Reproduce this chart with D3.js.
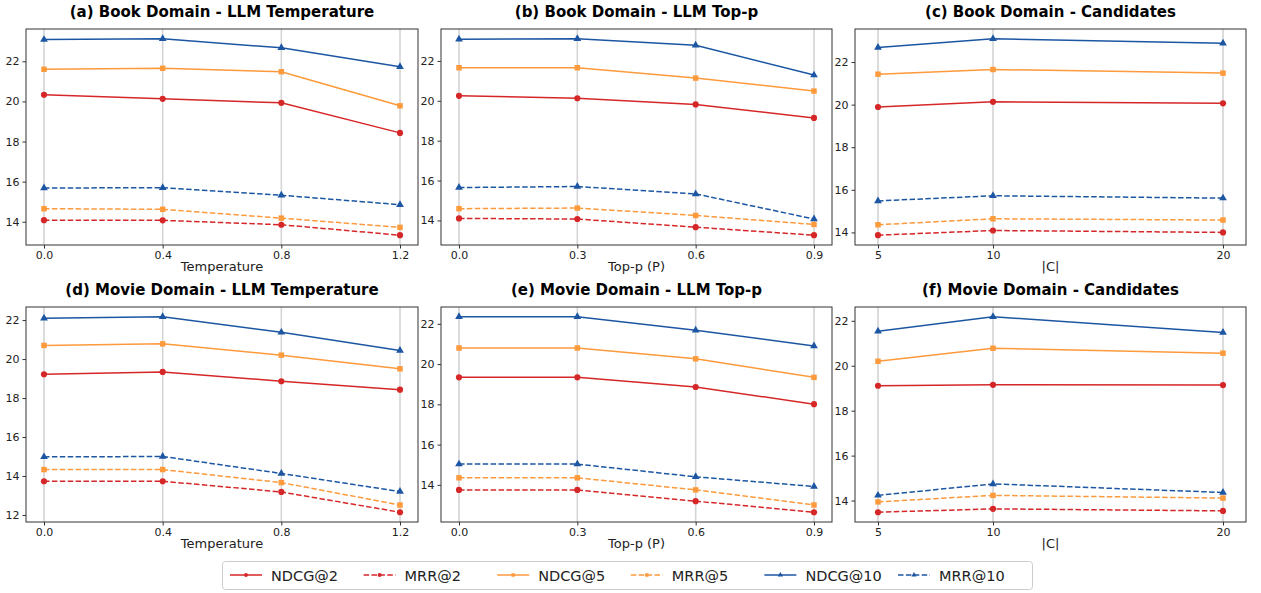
<!DOCTYPE html>
<html>
<head>
<meta charset="utf-8">
<script src="https://cdn.jsdelivr.net/npm/d3@7"></script>
<style>
  body { margin: 0; background: #fff; }
  svg { font-family: 'DejaVu Sans', sans-serif; }
</style>
</head>
<body>
<div id="chart"></div>
<script>
// x values for each panel
const tempX = [0.0, 0.4, 0.8, 1.2];
const topPX = [0.0, 0.3, 0.6, 0.9];
const candX = [5, 10, 20];

const tempTicks = ['0.0', '0.4', '0.8', '1.2'];
const topPTicks = ['0.0', '0.3', '0.6', '0.9'];
const candTicks = ['5', '10', '20'];

const seriesNames = ['NDCG@2', 'MRR@2', 'NDCG@5', 'MRR@5', 'NDCG@10', 'MRR@10'];

// (a) Book - temperature
const bookTemp = [
  [20.33, 20.13, 19.93, 18.43],
  [14.08, 14.07, 13.85, 13.33],
  [21.60, 21.65, 21.48, 19.78],
  [14.65, 14.62, 14.18, 13.72],
  [23.08, 23.12, 22.67, 21.73],
  [15.68, 15.70, 15.32, 14.85]
];
// (b) Book - top-p
const bookTopP = [
  [20.25, 20.13, 19.82, 19.14],
  [14.10, 14.07, 13.66, 13.26],
  [21.66, 21.66, 21.14, 20.49],
  [14.59, 14.62, 14.25, 13.80],
  [23.09, 23.11, 22.79, 21.29],
  [15.65, 15.70, 15.33, 14.07]
];
// (c) Book - candidates
const bookCand = [
  [19.89, 20.13, 20.06],
  [13.87, 14.09, 14.00],
  [21.43, 21.65, 21.48],
  [14.36, 14.64, 14.58],
  [22.68, 23.09, 22.88],
  [15.48, 15.72, 15.61]
];
// (d) Movie - temperature
const movieTemp = [
  [19.22, 19.34, 18.86, 18.43],
  [13.73, 13.73, 13.18, 12.14],
  [20.70, 20.78, 20.20, 19.50],
  [14.33, 14.33, 13.66, 12.51],
  [22.09, 22.17, 21.37, 20.44],
  [14.98, 15.00, 14.13, 13.20]
];
// (e) Movie - top-p
const movieTopP = [
  [19.34, 19.34, 18.86, 18.01],
  [13.75, 13.75, 13.19, 12.64],
  [20.80, 20.80, 20.26, 19.34],
  [14.35, 14.35, 13.75, 13.00],
  [22.35, 22.35, 21.68, 20.90],
  [15.03, 15.03, 14.40, 13.92]
];
// (f) Movie - candidates
const movieCand = [
  [19.11, 19.15, 19.14],
  [13.48, 13.63, 13.54],
  [20.20, 20.78, 20.56],
  [13.94, 14.23, 14.11],
  [21.54, 22.18, 21.48],
  [14.23, 14.74, 14.36]
];

const colors = ['#d62728', '#d62728', '#fd9a3c', '#fd9a3c', '#1c56a3', '#1c56a3'];
const dashed = [false, true, false, true, false, true];
const markers = ['circle', 'circle', 'square', 'square', 'triangle', 'triangle'];

const panels = [
  { title: '(a) Book Domain - LLM Temperature', xs: tempX, ticks: tempTicks, label: 'Temperature', data: bookTemp, col: 0, row: 0, pad: 18 },
  { title: '(b) Book Domain - LLM Top-p', xs: topPX, ticks: topPTicks, label: 'Top-p (P)', data: bookTopP, col: 1, row: 0, pad: 18 },
  { title: '(c) Book Domain - Candidates', xs: candX, ticks: candTicks, label: '|C|', data: bookCand, col: 2, row: 0, pad: 23 },
  { title: '(d) Movie Domain - LLM Temperature', xs: tempX, ticks: tempTicks, label: 'Temperature', data: movieTemp, col: 0, row: 1, pad: 18 },
  { title: '(e) Movie Domain - LLM Top-p', xs: topPX, ticks: topPTicks, label: 'Top-p (P)', data: movieTopP, col: 1, row: 1, pad: 18 },
  { title: '(f) Movie Domain - Candidates', xs: candX, ticks: candTicks, label: '|C|', data: movieCand, col: 2, row: 1, pad: 23 }
];

const width = 1261;
const height = 593;
const colLeft = [26, 441, 855];
const colRight = [418, 832, 1246];
const rowTop = [29, 307];
const rowBottom = [245, 522];

const svg = d3.select('#chart')
  .append('svg')
  .attr('width', width)
  .attr('height', height);

const symbolFor = m => m === 'circle' ? d3.symbolCircle : (m === 'square' ? d3.symbolSquare : d3.symbolTriangle);
const symbolSize = m => m === 'circle' ? 30 : (m === 'square' ? 30 : 26);

panels.forEach(p => {
  const left = colLeft[p.col], right = colRight[p.col];
  const top = rowTop[p.row], bottom = rowBottom[p.row];

  const x = d3.scaleLinear()
    .domain(d3.extent(p.xs))
    .range([left + p.pad, right - p.pad]);

  const all = p.data.flat();
  const lo = d3.min(all), hi = d3.max(all);
  const m = (hi - lo) * 0.05;
  const y = d3.scaleLinear()
    .domain([lo - m, hi + m])
    .range([bottom, top]);

  const g = svg.append('g');

  // vertical grid
  g.append('g')
    .selectAll('line')
    .data(p.xs)
    .join('line')
      .attr('x1', d => x(d))
      .attr('x2', d => x(d))
      .attr('y1', top)
      .attr('y2', bottom)
      .attr('stroke', '#d4d4d4')
      .attr('stroke-width', 1.6);

  // x axis
  g.append('g')
    .attr('transform', `translate(0, ${bottom})`)
    .call(d3.axisBottom(x).tickValues(p.xs).tickFormat((d, i) => p.ticks[i]).tickSize(3.5).tickPadding(3))
    .call(a => a.select('.domain').remove())
    .attr('font-size', '11px')
    .attr('font-family', 'DejaVu Sans, sans-serif')
    .call(a => a.selectAll('text').attr('fill', '#222'))
    .call(a => a.selectAll('line').attr('stroke', '#333'));

  // y axis
  const yTicks = d3.range(Math.ceil(y.domain()[0] / 2) * 2, y.domain()[1], 2);
  g.append('g')
    .attr('transform', `translate(${left}, 0)`)
    .call(d3.axisLeft(y).tickValues(yTicks).tickFormat(d3.format('d')).tickSize(3.5).tickPadding(3))
    .call(a => a.select('.domain').remove())
    .attr('font-size', '11px')
    .attr('font-family', 'DejaVu Sans, sans-serif')
    .call(a => a.selectAll('text').attr('fill', '#222'))
    .call(a => a.selectAll('line').attr('stroke', '#333'));

  // lines and markers
  p.data.forEach((vals, si) => {
    const pts = vals.map((v, i) => [p.xs[i], v]);
    g.append('path')
      .datum(pts)
      .attr('fill', 'none')
      .attr('stroke', colors[si])
      .attr('stroke-width', 1.5)
      .attr('stroke-dasharray', dashed[si] ? '5.5,2.4' : null)
      .attr('d', d3.line().x(d => x(d[0])).y(d => y(d[1])));

    g.append('g')
      .selectAll('path')
      .data(pts)
      .join('path')
        .attr('transform', d => `translate(${x(d[0])},${y(d[1])})`)
        .attr('d', d3.symbol().type(symbolFor(markers[si])).size(symbolSize(markers[si])))
        .attr('fill', colors[si]);
  });

  // frame
  g.append('rect')
    .attr('x', left)
    .attr('y', top)
    .attr('width', right - left)
    .attr('height', bottom - top)
    .attr('fill', 'none')
    .attr('stroke', '#333')
    .attr('stroke-width', 1);

  // title
  g.append('text')
    .attr('x', (left + right) / 2)
    .attr('y', top - 12)
    .attr('text-anchor', 'middle')
    .attr('font-size', '15px')
    .attr('font-weight', 'bold')
    .text(p.title);

  // x label
  g.append('text')
    .attr('x', (left + right) / 2)
    .attr('y', bottom + 26)
    .attr('text-anchor', 'middle')
    .attr('font-size', '13px')
    .attr('fill', '#222')
    .text(p.label);
});

// legend
const legend = svg.append('g');
legend.append('rect')
  .attr('x', 222.5)
  .attr('y', 561.5)
  .attr('width', 810)
  .attr('height', 28)
  .attr('rx', 3)
  .attr('fill', '#fff')
  .attr('stroke', '#ccc');

const legendX = d3.scalePoint()
  .domain(seriesNames)
  .range([230, 898]);

seriesNames.forEach((name, i) => {
  const lx = legendX(name);
  const item = legend.append('g');
  item.append('line')
    .attr('x1', lx).attr('x2', lx + 32)
    .attr('y1', 575).attr('y2', 575)
    .attr('stroke', colors[i])
    .attr('stroke-width', 1.5)
    .attr('stroke-dasharray', dashed[i] ? '5.5,2.4' : null);
  item.append('path')
    .attr('transform', `translate(${lx + 16},575)`)
    .attr('d', d3.symbol().type(symbolFor(markers[i])).size(12))
    .attr('fill', colors[i]);
  item.append('text')
    .attr('x', lx + 41)
    .attr('y', 580.5)
    .attr('font-size', '14.5px')
    .attr('fill', '#222')
    .text(name);
});
</script>
</body>
</html>
